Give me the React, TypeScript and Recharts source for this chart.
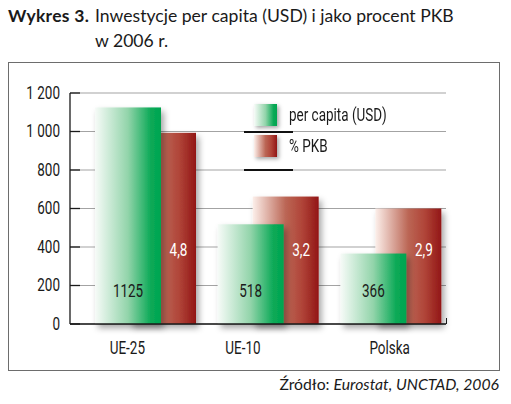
import React from "react"
import { BarChart, Bar, XAxis, YAxis, CartesianGrid, LabelList, Legend } from "recharts"

const categories = ["UE-25", "UE-10", "Polska"]
const perCapita = [1125, 518, 366]
const gdpShare = [4.8, 3.2, 2.9]
const yTicks = [0, 200, 400, 600, 800, 1000, 1200]
const seriesNames = ["per capita (USD)", "% PKB"]

const data = categories.map((name, i) => ({ name, perCapita: perCapita[i], gdpShare: gdpShare[i] }))

// no condensed face available, so Roboto is squeezed horizontally
const narrow = "Roboto, sans-serif"
const narrowSize = 17.5
const squeeze = 0.77
const sans = "Lato, 'Open Sans', sans-serif"

const narrowText = (origin: string): React.CSSProperties => ({
  transform: `scaleX(${squeeze})`,
  transformBox: "fill-box",
  transformOrigin: origin,
})

// gradient stops shared by the svg bars and the html legend swatches
const greenStops: [number, string][] = [
  [0, "#f7fbf8"],
  [0.5, "#92d4aa"],
  [0.85, "#0aa956"],
  [1, "#00a550"],
]
const redStops: [number, string][] = [
  [0, "#fcefea"],
  [0.5, "#bb6655"],
  [0.75, "#b04438"],
  [1, "#921616"],
]
const cssGrad = (stops: [number, string][]) =>
  `linear-gradient(to right, ${stops.map(([o, c]) => `${c} ${o * 100}%`).join(", ")})`

const legendFill: Record<string, string> = {
  [seriesNames[0]]: cssGrad(greenStops),
  [seriesNames[1]]: cssGrad(redStops),
}

const fmtThousands = (v: number) => (v >= 1000 ? `${Math.floor(v / 1000)}\u00a0${String(v % 1000).padStart(3, "0")}` : String(v))

const YTick = (props: any) => {
  const { x, y, payload } = props
  return (
    <g>
      <line x1={x + 10} x2={x + 20} y1={y} y2={y} stroke="#1a1a1a" strokeWidth={1.3} />
      <text x={x} y={y} dy={6} textAnchor="end" fontFamily={narrow} fontSize={narrowSize} fill="#1a1a1a" style={narrowText("right center")}>
        {fmtThousands(payload.value)}
      </text>
    </g>
  )
}

// labels are not centred on the groups in the original
const labelShift = [-18, -25, -1]

const XTick = (props: any) => {
  const { x, y, payload, index } = props
  return (
    <text x={x + (labelShift[index] || 0)} y={y} dy={30} textAnchor="middle" fontFamily={narrow} fontSize={narrowSize} fill="#1a1a1a" style={narrowText("center")}>
      {payload.value}
    </text>
  )
}

const ShadowBar = (props: any) => {
  const { x, y, width, height, fill } = props
  return <rect x={x} y={y} width={width} height={height} fill={fill} filter="url(#barShadow)" />
}

const GreenLabel = (props: any) => {
  const { x, y, width, height, value } = props
  return (
    <text x={x + width / 2} y={y + height - 33} dy={6} textAnchor="middle" fontFamily={narrow} fontSize={narrowSize} fill="#1a1a1a" style={narrowText("center")}>
      {value}
    </text>
  )
}

const RedLabel = (props: any) => {
  const { x, y, width, height, value } = props
  return (
    <text x={x + width - 17.5} y={y + height - 74} dy={6} textAnchor="middle" fontFamily={narrow} fontSize={narrowSize} fill="#ffffff" style={narrowText("center")}>
      {String(value).replace(".", ",")}
    </text>
  )
}

const renderLegend = (props: any) => {
  const items = [...(props.payload || [])].sort(
    (a: any, b: any) => seriesNames.indexOf(a.value) - seriesNames.indexOf(b.value)
  )
  return (
    <div style={{ position: "relative", width: 170, height: 80 }}>
      {items.map((item: any, i: number) => (
        <React.Fragment key={item.value}>
          <div
            style={{
              position: "absolute",
              left: 10,
              top: 11 + i * 31,
              width: 23,
              height: 22,
              background: legendFill[item.value],
              boxShadow: "2px 2px 4px rgba(0,0,0,0.35)",
            }}
          />
          <div
            style={{
              position: "absolute",
              left: 45,
              top: 11.5 + i * 31,
              lineHeight: "20px",
              fontFamily: narrow,
              fontSize: narrowSize,
              color: "#1a1a1a",
              whiteSpace: "nowrap",
              transform: `scaleX(${squeeze})`,
              transformOrigin: "left center",
            }}
          >
            {item.value}
          </div>
          <div style={{ position: "absolute", left: 0, top: 37.5 + i * 38.5, width: 49, height: 2, background: "#111" }} />
        </React.Fragment>
      ))}
    </div>
  )
}

export default function App() {
  return (
    <div style={{ position: "absolute", left: 0, top: 0, width: 511, height: 404, background: "#fff", overflow: "hidden", fontFamily: sans }}>
      <div style={{ position: "absolute", left: 8, top: 4, fontSize: 17.5, lineHeight: "24.5px", fontWeight: 700, letterSpacing: 0.3, color: "#1a1a1a" }}>
        Wykres 3.
      </div>
      <div style={{ position: "absolute", left: 95, top: 4, fontSize: 17.6, lineHeight: "24.5px", color: "#1a1a1a", whiteSpace: "nowrap" }}>
        Inwestycje per capita (USD) i jako procent PKB
        <br />w 2006 r.
      </div>
      <div style={{ position: "absolute", left: 8, top: 62, width: 490, height: 307, border: "1px solid #6d6d6d" }} />
      <div style={{ position: "absolute", left: 446, top: 318, width: 1.3, height: 6, background: "#1a1a1a" }} />

      <div style={{ position: "absolute", left: 0, top: 0 }}>
        <BarChart
          width={511}
          height={404}
          data={data}
          margin={{ top: 93, right: 65, bottom: 50, left: 10 }}
          barSize={66}
          barGap={-101}
        >
          <defs>
            <linearGradient id="greenGrad" x1="0" y1="0" x2="1" y2="0">
              {greenStops.map(([o, c]) => (
                <stop key={o} offset={o} stopColor={c} />
              ))}
            </linearGradient>
            <linearGradient id="redGrad" x1="0" y1="0" x2="1" y2="0">
              {redStops.map(([o, c]) => (
                <stop key={o} offset={o} stopColor={c} />
              ))}
            </linearGradient>
            <filter id="barShadow" x="-30%" y="-10%" width="160%" height="130%">
              <feDropShadow dx="3" dy="4" stdDeviation="3" floodColor="#000" floodOpacity="0.35" />
            </filter>
          </defs>
          <CartesianGrid yAxisId="left" vertical={false} stroke="#a3a3a3" strokeWidth={1} />
          <XAxis
            dataKey="name"
            height={30}
            padding={{ left: 14, right: -6 }}
            tickLine={false}
            tickSize={0}
            tickMargin={0}
            axisLine={{ stroke: "#1a1a1a", strokeWidth: 1.3 }}
            tick={<XTick />}
            interval={0}
          />
          <YAxis
            yAxisId="left"
            width={60}
            domain={[0, 1200]}
            ticks={yTicks}
            tickLine={false}
            tickSize={0}
            tickMargin={10}
            axisLine={{ stroke: "#1a1a1a", strokeWidth: 1.3 }}
            tick={<YTick />}
            interval={0}
          />
          <YAxis yAxisId="right" orientation="right" hide domain={[0, 5.8]} />
          <Legend
            layout="vertical"
            align="center"
            verticalAlign="middle"
            content={renderLegend}
            wrapperStyle={{ position: "absolute", left: 244, top: 93, width: 170, height: 80 }}
          />
          <Bar yAxisId="right" dataKey="gdpShare" name={seriesNames[1]} fill="url(#redGrad)" shape={<ShadowBar />} isAnimationActive={false}>
            <LabelList dataKey="gdpShare" content={<RedLabel />} />
          </Bar>
          <Bar yAxisId="left" dataKey="perCapita" name={seriesNames[0]} fill="url(#greenGrad)" shape={<ShadowBar />} isAnimationActive={false}>
            <LabelList dataKey="perCapita" content={<GreenLabel />} />
          </Bar>
        </BarChart>
      </div>

      <div style={{ position: "absolute", right: 12, top: 374, fontSize: 15.75, lineHeight: "20px", color: "#1a1a1a", whiteSpace: "nowrap" }}>
        Źródło: <i>Eurostat, UNCTAD, 2006</i>
      </div>
    </div>
  )
}
